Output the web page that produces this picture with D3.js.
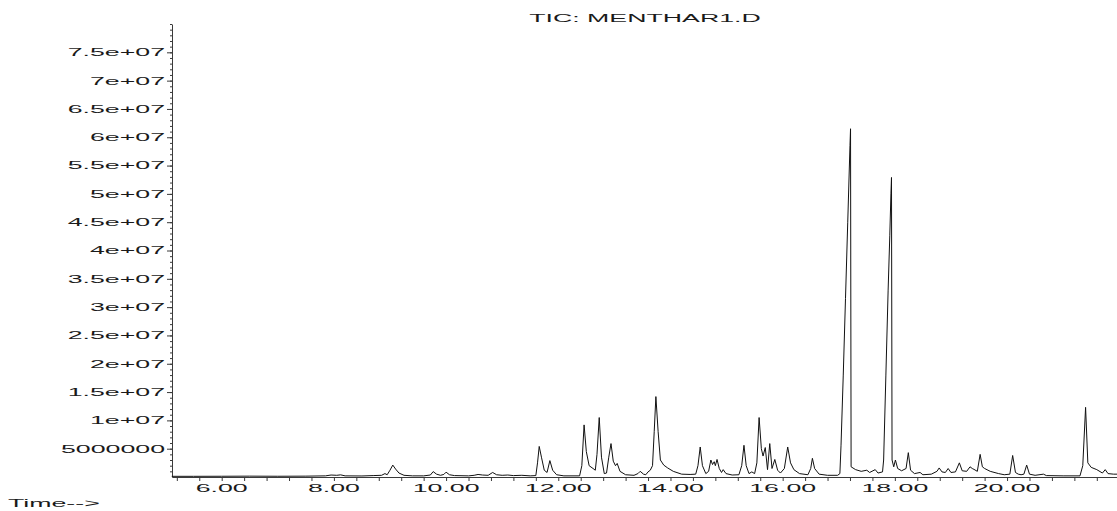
<!DOCTYPE html>
<html>
<head>
<meta charset="utf-8">
<script src="https://cdn.jsdelivr.net/npm/d3@7"></script>
<style>
  html, body { margin: 0; padding: 0; background: #fff; }
  svg { display: block; }
  text { font-family: "Liberation Sans", Arial, sans-serif; font-size: 11px; fill: #1a1a1a; }
</style>
</head>
<body>
<svg id="chart" width="1117" height="511"></svg>
<script>
// Retention time (min) and total ion current (counts)
const times = [
  5.11, 5.5, 6.0, 6.5, 7.0, 7.5, 7.85, 7.95, 8.05, 8.12, 8.2, 8.5, 8.7, 8.85, 8.91, 8.95,
  9.0, 9.05, 9.1, 9.16, 9.25, 9.4, 9.6, 9.72, 9.77, 9.83, 9.9, 9.96, 10.0, 10.06, 10.15,
  10.4, 10.5, 10.57, 10.65, 10.75, 10.83, 10.9, 11.0, 11.1, 11.2, 11.35, 11.5, 11.6,
  11.63, 11.66, 11.7, 11.75, 11.8, 11.85, 11.9, 11.97, 12.1, 12.38, 12.42, 12.46, 12.5,
  12.55, 12.62, 12.66, 12.69, 12.73, 12.77, 12.82, 12.86, 12.9, 12.94, 12.98, 13.02,
  13.05, 13.1, 13.2, 13.35, 13.42, 13.46, 13.52, 13.56, 13.6, 13.64, 13.68, 13.71, 13.74,
  13.78, 13.82, 13.88, 13.95, 14.05, 14.2, 14.35, 14.45, 14.49, 14.53, 14.57, 14.63,
  14.68, 14.72, 14.75, 14.78, 14.8, 14.83, 14.87, 14.91, 14.94, 14.99, 15.1, 15.22,
  15.27, 15.31, 15.35, 15.4, 15.45, 15.5, 15.54, 15.58, 15.62, 15.65, 15.69, 15.73,
  15.77, 15.81, 15.86, 15.91, 15.96, 16.03, 16.09, 16.14, 16.2, 16.3, 16.45, 16.5,
  16.53, 16.57, 16.65, 16.8, 16.98, 17.02, 17.04, 17.08, 17.12, 17.16, 17.2, 17.21,
  17.22, 17.3, 17.4, 17.5, 17.55, 17.65, 17.7, 17.78, 17.8, 17.84, 17.88, 17.91, 17.93,
  17.94, 17.95, 17.98, 18.01, 18.05, 18.12, 18.2, 18.24, 18.28, 18.35, 18.45, 18.5,
  18.65, 18.75, 18.79, 18.84, 18.9, 18.95, 19.0, 19.08, 19.15, 19.2, 19.28, 19.34, 19.38,
  19.41, 19.47, 19.52, 19.56, 19.6, 19.7, 19.85, 19.95, 20.05, 20.1, 20.15, 20.2, 20.25,
  20.3, 20.35, 20.4, 20.5, 20.65, 20.7, 21.0, 21.3, 21.35, 21.4, 21.44, 21.5, 21.6,
  21.7, 21.75, 21.8, 21.9, 21.96
];
const tic = [
  0.12e6, 0.12e6, 0.13e6, 0.15e6, 0.13e6, 0.15e6, 0.2e6, 0.35e6, 0.3e6, 0.38e6, 0.2e6, 0.18e6, 0.25e6, 0.3e6, 0.6e6, 0.4e6,
  1.2e6, 2.1e6, 1.4e6, 0.7e6, 0.3e6, 0.2e6, 0.2e6, 0.35e6, 0.95e6, 0.5e6, 0.3e6, 0.45e6, 0.85e6, 0.4e6, 0.25e6,
  0.2e6, 0.3e6, 0.45e6, 0.35e6, 0.3e6, 0.8e6, 0.4e6, 0.3e6, 0.35e6, 0.25e6, 0.3e6, 0.2e6, 0.25e6,
  2.5e6, 5.4e6, 3.5e6, 1.2e6, 0.8e6, 2.9e6, 1.2e6, 0.4e6, 0.2e6, 0.2e6, 2.0e6, 9.2e6, 4.5e6,
  2.0e6, 1.5e6, 1.2e6, 4.0e6, 10.5e6, 3.5e6, 0.6e6, 0.7e6, 3.5e6, 5.9e6, 2.8e6, 2.0e6,
  2.4e6, 1.0e6, 0.4e6, 0.3e6, 0.6e6, 1.0e6, 0.5e6, 0.4e6, 0.9e6, 1.2e6, 2.0e6, 8.0e6, 14.2e6,
  8.0e6, 3.0e6, 2.1e6, 1.6e6, 1.0e6, 0.5e6, 0.45e6, 0.5e6, 2.0e6, 5.3e6, 2.0e6, 0.6e6,
  1.0e6, 3.0e6, 2.2e6, 2.7e6, 2.0e6, 3.1e6, 1.5e6, 0.8e6, 1.3e6, 0.6e6, 0.35e6, 0.4e6,
  2.0e6, 5.6e6, 2.0e6, 0.6e6, 0.9e6, 0.6e6, 2.5e6, 10.5e6, 5.0e6, 3.7e6, 5.2e6, 1.3e6,
  5.9e6, 1.5e6, 3.1e6, 1.2e6, 0.7e6, 1.5e6, 5.3e6, 2.5e6, 1.3e6, 0.6e6, 0.4e6, 1.5e6,
  3.3e6, 1.5e6, 0.5e6, 0.3e6, 0.3e6, 0.6e6, 5.5e6, 18.0e6, 31.5e6, 45.0e6, 58.5e6, 61.5e6,
  1.8e6, 1.3e6, 1.0e6, 1.2e6, 0.8e6, 1.3e6, 0.7e6, 0.9e6, 3.0e6, 18.0e6, 33.0e6, 42.7e6, 50.0e6,
  52.9e6, 3.0e6, 1.8e6, 3.0e6, 1.5e6, 1.1e6, 1.5e6, 4.3e6, 1.2e6, 0.6e6, 0.8e6, 0.4e6,
  0.5e6, 1.0e6, 1.6e6, 0.9e6, 0.8e6, 1.5e6, 0.8e6, 0.9e6, 2.5e6, 1.1e6, 1.0e6, 1.8e6, 1.5e6,
  1.35e6, 1.0e6, 4.0e6, 1.8e6, 1.5e6, 1.0e6, 0.6e6, 0.4e6, 0.5e6, 3.8e6, 0.8e6, 0.5e6, 0.4e6,
  0.5e6, 2.1e6, 0.5e6, 0.3e6, 0.5e6, 0.25e6, 0.2e6, 0.2e6, 2.0e6, 12.3e6, 2.5e6, 1.7e6, 1.3e6,
  0.7e6, 1.3e6, 0.6e6, 0.5e6, 0.5e6
];

const yTickValues = [5e6, 1e7, 1.5e7, 2e7, 2.5e7, 3e7, 3.5e7, 4e7, 4.5e7, 5e7, 5.5e7, 6e7, 6.5e7, 7e7, 7.5e7];
const yTickLabels = ["5000000", "1e+07", "1.5e+07", "2e+07", "2.5e+07", "3e+07", "3.5e+07", "4e+07",
  "4.5e+07", "5e+07", "5.5e+07", "6e+07", "6.5e+07", "7e+07", "7.5e+07"];
const xTickValues = [6, 8, 10, 12, 14, 16, 18, 20];
const xTickLabels = ["6.00", "8.00", "10.00", "12.00", "14.00", "16.00", "18.00", "20.00"];
const titleText = "TIC: MENTHAR1.D";
const xAxisLabel = "Time-->";

const svg = d3.select("#chart");
const SX = 2.43; // horizontal stretch of the original lettering

const x = d3.scaleLinear().domain([5.114, 21.96]).range([172, 1117]);
const y = d3.scaleLinear().domain([0, 8e7]).range([477, 24]);

const axisColor = "#3a3a3a";

// Y axis with minor ticks
const yAxis = d3.axisLeft(y)
  .tickValues(d3.range(1e6, 8e7 + 1, 1e6))
  .tickFormat("")
  .tickSize(2)
  .tickSizeOuter(0);
const gy = svg.append("g").attr("transform", `translate(${x.range()[0]},0)`).call(yAxis);
gy.selectAll(".tick line").attr("stroke", axisColor);
gy.select(".domain").attr("stroke", axisColor);

const yMajor = d3.axisLeft(y).tickValues(yTickValues).tickFormat("").tickSize(5).tickSizeOuter(0);
const gy2 = svg.append("g").attr("transform", `translate(${x.range()[0]},0)`).call(yMajor);
gy2.select(".domain").remove();
gy2.selectAll(".tick line").attr("stroke", axisColor);

svg.append("g").selectAll("text").data(yTickValues).join("text")
  .attr("text-anchor", "end")
  .attr("transform", d => `translate(${x.range()[0] - 7},${y(d) + 3.9}) scale(${SX},1)`)
  .text((d, i) => yTickLabels[i]);

// X axis, ticks every 0.4 min
const xMinor = d3.range(5.2, 21.96, 0.4);
const xAxis = d3.axisBottom(x).tickValues(xMinor).tickFormat("").tickSize(4).tickSizeOuter(0);
const gx = svg.append("g").attr("transform", `translate(0,${y(0)})`).call(xAxis);
gx.selectAll(".tick line").attr("stroke", axisColor);
gx.select(".domain").attr("stroke", axisColor);

svg.append("g").selectAll("text").data(xTickValues).join("text")
  .attr("text-anchor", "middle")
  .attr("transform", d => `translate(${x(d)},492) scale(${SX},1)`)
  .text((d, i) => xTickLabels[i]);

// Trace
const pts = times.map((t, i) => [t, tic[i]]);
const line = d3.line().x(d => x(d[0])).y(d => y(d[1]));
svg.append("path")
  .datum(pts)
  .attr("fill", "none")
  .attr("stroke", "#111")
  .attr("stroke-width", 1)
  .attr("stroke-linejoin", "round")
  .attr("d", line);

// Title and axis label
svg.append("text")
  .attr("text-anchor", "middle")
  .attr("transform", `translate(645,22) scale(${SX},1)`)
  .text(titleText);

svg.append("text")
  .attr("text-anchor", "start")
  .attr("transform", `translate(8,507) scale(${SX},1)`)
  .text(xAxisLabel);
</script>
</body>
</html>
